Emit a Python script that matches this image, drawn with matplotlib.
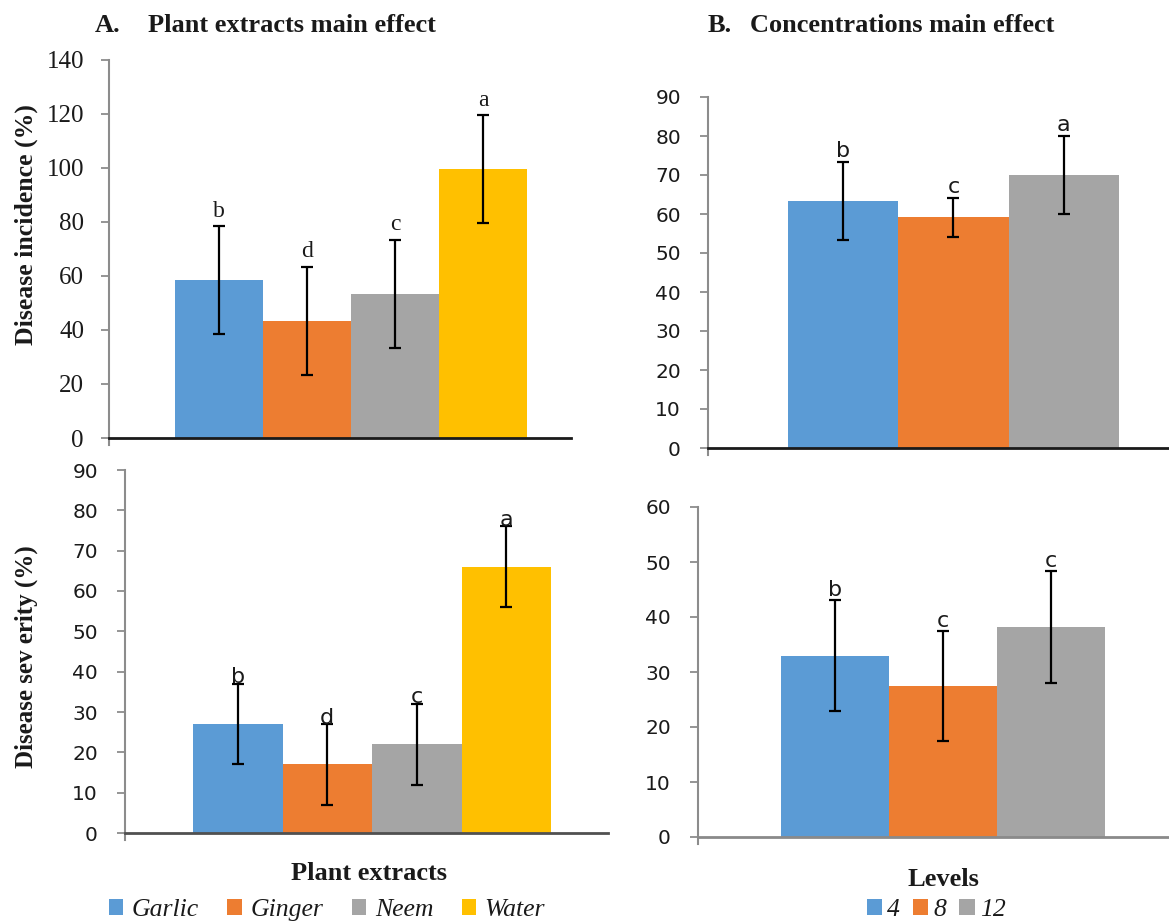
import matplotlib
matplotlib.use("Agg")
import matplotlib.pyplot as plt
from matplotlib.patches import Patch

# ---------------- data ----------------
extracts = ["Garlic", "Ginger", "Neem", "Water"]
incidence = [58.5, 43.5, 53.5, 99.5]
incidence_err = [20, 20, 20, 20]
incidence_letters = ["b", "d", "c", "a"]

severity = [27, 17, 22, 66]
severity_err = [10, 10, 10, 10]
severity_letters = ["b", "d", "c", "a"]

levels = ["4", "8", "12"]
conc_incidence = [63.3, 59.2, 70.0]
conc_incidence_err = [10, 5, 10]
conc_incidence_letters = ["b", "c", "a"]

conc_severity = [33.0, 27.5, 38.2]
conc_severity_err = [10, 10, 10.2]
conc_severity_letters = ["b", "c", "c"]

colors_ext = ["#5B9BD5", "#ED7D31", "#A5A5A5", "#FFC000"]
colors_lvl = ["#5B9BD5", "#ED7D31", "#A5A5A5"]

W, H = 1169, 922
fig = plt.figure(figsize=(W / 100, H / 100), dpi=100)

SERIF = ["Liberation Serif", "DejaVu Serif"]
SANS = ["DejaVu Sans"]
TXT = "#1a1a1a"


def make_axes(ax_left, ax_right, top_px, zero_px, ymax, step, bar_left, bar_w, n,
              values, errs, letters, colors, tick_font, tick_size, tick_pad,
              letter_font, letter_size, letter_off, xaxis_color):
    ext = 7
    ax = fig.add_axes([ax_left / W, 1 - (zero_px + ext) / H,
                       (ax_right - ax_left) / W, (zero_px + ext - top_px) / H])
    ylo = -ymax * ext / (zero_px - top_px)
    ax.set_ylim(ylo, ymax)
    xl = -0.5 - (bar_left - ax_left) / bar_w
    xr = n - 0.5 + (ax_right - (bar_left + n * bar_w)) / bar_w
    ax.set_xlim(xl, xr)
    x = list(range(n))
    ax.bar(x, values, width=1.0, color=colors, zorder=2)
    ax.errorbar(x, values, yerr=errs, fmt="none", ecolor="black", elinewidth=1.6,
                capsize=4.5, capthick=1.6, zorder=3)
    for xi, v, e, lt in zip(x, values, errs, letters):
        ax.annotate(lt, (xi, v + e), xytext=(0, letter_off), textcoords="offset points",
                    ha="center", va="bottom", fontsize=letter_size,
                    family=letter_font, color=TXT, zorder=4)
    for s in ["top", "right"]:
        ax.spines[s].set_visible(False)
    ax.spines["bottom"].set_position(("data", 0))
    ax.spines["bottom"].set_color(xaxis_color)
    ax.spines["bottom"].set_linewidth(2.0)
    ax.spines["left"].set_color("#8c8c8c")
    ax.spines["left"].set_linewidth(1.5)
    ax.set_xticks([])
    ticks = list(range(0, int(ymax) + 1, step))
    ax.set_yticks(ticks)
    ax.tick_params(axis="y", direction="out", length=6, width=1.3, color="#8c8c8c",
                   labelsize=tick_size, labelcolor=TXT, pad=tick_pad)
    for lab in ax.get_yticklabels():
        lab.set_family(tick_font)
    ax.set_facecolor("none")
    return ax


axA1 = make_axes(109, 571, 60, 438, 140, 20, 175, 88, 4,
                 incidence, incidence_err, incidence_letters, colors_ext,
                 SERIF, 18, 12, SERIF, 17, 3, "#1a1a1a")
axA2 = make_axes(125, 608, 470, 833, 90, 10, 193, 89.5, 4,
                 severity, severity_err, severity_letters, colors_ext,
                 SANS, 14.5, 13.5, SANS, 16, -2.5, "#505050")
axB1 = make_axes(708, 1168, 97, 448, 90, 10, 788, 110.3, 3,
                 conc_incidence, conc_incidence_err, conc_incidence_letters, colors_lvl,
                 SANS, 14.5, 13.5, SANS, 16, 0.5, "#1a1a1a")
axB2 = make_axes(698, 1169, 507, 837, 60, 10, 781, 108, 3,
                 conc_severity, conc_severity_err, conc_severity_letters, colors_lvl,
                 SANS, 14.5, 13.5, SANS, 16, 0, "#8a8a8a")

# titles
TS = 19
fig.text(95 / W, 1 - 25 / H, "A.", family=SERIF, weight="bold", fontsize=TS,
         va="center", ha="left", color=TXT)
fig.text(148 / W, 1 - 25 / H, "Plant extracts main effect", family=SERIF, weight="bold",
         fontsize=TS, va="center", ha="left", color=TXT)
fig.text(708 / W, 1 - 25 / H, "B.", family=SERIF, weight="bold", fontsize=TS,
         va="center", ha="left", color=TXT)
fig.text(750 / W, 1 - 25 / H, "Concentrations main effect", family=SERIF, weight="bold",
         fontsize=TS, va="center", ha="left", color=TXT)

# y labels
fig.text(26 / W, 1 - 225 / H, "Disease incidence (%)", family=SERIF, weight="bold",
         fontsize=18.5, rotation=90, va="center", ha="center", color=TXT)
fig.text(26 / W, 1 - 657 / H, "Disease sev erity (%)", family=SERIF, weight="bold",
         fontsize=18, rotation=90, va="center", ha="center", color=TXT)

# x labels
fig.text(369 / W, 1 - 873 / H, "Plant extracts", family=SERIF, weight="bold",
         fontsize=19, va="center", ha="center", color=TXT)
fig.text(943 / W, 1 - 879 / H, "Levels", family=SERIF, weight="bold",
         fontsize=19, va="center", ha="center", color=TXT)

# legends
hA = [Patch(facecolor=c, edgecolor="none") for c in colors_ext]
legA = fig.legend(hA, extracts, loc="center", bbox_to_anchor=(327 / W, 1 - 910 / H),
                  ncol=4, frameon=False, handlelength=0.55, handleheight=0.6,
                  handletextpad=0.35, columnspacing=1.1,
                  prop={"family": SERIF, "style": "italic", "size": 18.5})
hB = [Patch(facecolor=c, edgecolor="none") for c in colors_lvl]
legB = fig.legend(hB, levels, loc="center", bbox_to_anchor=(936 / W, 1 - 910 / H),
                  ncol=3, frameon=False, handlelength=0.6, handleheight=0.6,
                  handletextpad=0.2, columnspacing=0.5,
                  prop={"family": SERIF, "style": "italic", "size": 18.5})
for leg in (legA, legB):
    for t in leg.get_texts():
        t.set_color(TXT)

fig.savefig("out.png", dpi=100, facecolor="white")
